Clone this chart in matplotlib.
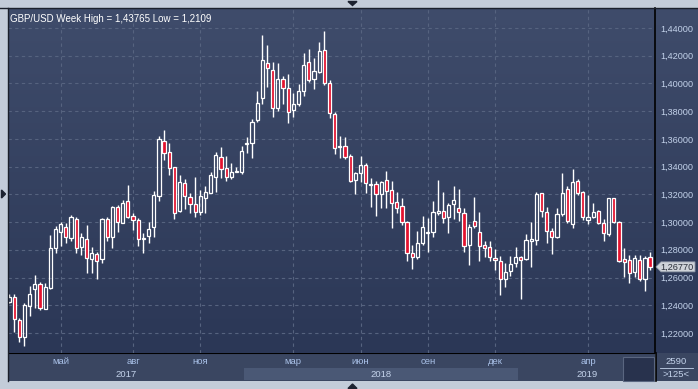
import numpy as np
import matplotlib.pyplot as plt
from matplotlib.patches import Rectangle, Polygon
from matplotlib.colors import LinearSegmentedColormap

plt.rcParams['font.family'] = ['Liberation Sans', 'DejaVu Sans']

# weekly GBP/USD candles
opens = [1.2422, 1.2458, 1.2294, 1.2169, 1.2395, 1.2515, 1.2551, 1.2371, 1.2527, 1.2811,
         1.2926, 1.2967, 1.2883, 1.3020, 1.2818, 1.2876, 1.2736, 1.2772, 1.2736, 1.3020,
         1.2890, 1.3106, 1.2995, 1.3152, 1.3046, 1.3015, 1.2880, 1.2902, 1.2962, 1.3190,
         1.3584, 1.3503, 1.3395, 1.3082, 1.3279, 1.3183, 1.3130, 1.3075, 1.3171, 1.3212,
         1.3327, 1.3471, 1.3387, 1.3323, 1.3364, 1.3363, 1.3565, 1.3568, 1.3736, 1.3892,
         1.4144, 1.4096, 1.3824, 1.4031, 1.3964, 1.3808, 1.3849, 1.3945, 1.4151, 1.4029,
         1.4084, 1.4240, 1.4000, 1.3777, 1.3541, 1.3548, 1.3476, 1.3303, 1.3351, 1.3411,
         1.3267, 1.3272, 1.3200, 1.3303, 1.3231, 1.3142, 1.3116, 1.2998, 1.2775, 1.2746,
         1.2847, 1.2923, 1.2926, 1.3063, 1.3080, 1.3034, 1.3128, 1.3099, 1.3063, 1.2835,
         1.3008, 1.2926, 1.2835, 1.2818, 1.2739, 1.2719, 1.2587, 1.2647, 1.2703, 1.2746,
         1.2734, 1.2866, 1.2871, 1.3207, 1.3075, 1.2935, 1.2894, 1.3058, 1.3236, 1.2984,
         1.3296, 1.3214, 1.3015, 1.3034, 1.3080, 1.2991, 1.2914, 1.3171, 1.3003, 1.2732,
         1.2727, 1.2638, 1.2727, 1.2587, 1.2746]
highs = [1.2481, 1.2481, 1.2311, 1.2414, 1.2539, 1.2618, 1.2570, 1.2561, 1.2907, 1.2972,
         1.3003, 1.2991, 1.3051, 1.3039, 1.2923, 1.2979, 1.2818, 1.2786, 1.3031, 1.3039,
         1.3116, 1.3123, 1.3159, 1.3267, 1.3063, 1.3027, 1.2919, 1.2998, 1.3226, 1.3620,
         1.3663, 1.3572, 1.3399, 1.3339, 1.3308, 1.3212, 1.3323, 1.3231, 1.3260, 1.3363,
         1.3507, 1.3539, 1.3476, 1.3423, 1.3399, 1.3548, 1.3611, 1.3741, 1.3945, 1.4348,
         1.4276, 1.4151, 1.4144, 1.4053, 1.4067, 1.3928, 1.3993, 1.4216, 1.4247, 1.4185,
         1.4300, 1.4377, 1.4024, 1.3795, 1.3620, 1.3615, 1.3490, 1.3363, 1.3476, 1.3423,
         1.3315, 1.3298, 1.3296, 1.3368, 1.3298, 1.3214, 1.3171, 1.3008, 1.2835, 1.2938,
         1.3044, 1.3027, 1.3152, 1.3303, 1.3214, 1.3135, 1.3260, 1.3238, 1.3099, 1.2984,
         1.3183, 1.3070, 1.2863, 1.2866, 1.2804, 1.2757, 1.2703, 1.2755, 1.2818, 1.2755,
         1.2914, 1.3003, 1.3219, 1.3212, 1.3106, 1.2955, 1.3103, 1.3351, 1.3260, 1.3380,
         1.3308, 1.3224, 1.3195, 1.3139, 1.3087, 1.3020, 1.3175, 1.3175, 1.3008, 1.2811,
         1.2763, 1.2763, 1.2763, 1.2757, 1.2782]
lows = [1.2415, 1.2210, 1.2138, 1.2109, 1.2325, 1.2378, 1.2366, 1.2370, 1.2515, 1.2775,
        1.2830, 1.2847, 1.2866, 1.2775, 1.2763, 1.2635, 1.2635, 1.2587, 1.2707, 1.2866,
        1.2811, 1.2930, 1.2991, 1.3027, 1.2943, 1.2827, 1.2775, 1.2851, 1.2890, 1.3154,
        1.3447, 1.3339, 1.3022, 1.3075, 1.3092, 1.3067, 1.3039, 1.3051, 1.3063, 1.3212,
        1.3219, 1.3320, 1.3298, 1.3308, 1.3359, 1.3346, 1.3496, 1.3460, 1.3723, 1.3851,
        1.3976, 1.3759, 1.3800, 1.3851, 1.3712, 1.3759, 1.3839, 1.3911, 1.4007, 1.3959,
        1.4076, 1.3988, 1.3748, 1.3488, 1.3460, 1.3452, 1.3291, 1.3200, 1.3291, 1.3212,
        1.3106, 1.3046, 1.3099, 1.3099, 1.2955, 1.3067, 1.2979, 1.2721, 1.2659, 1.2732,
        1.2835, 1.2786, 1.2894, 1.3051, 1.2991, 1.2923, 1.3020, 1.3008, 1.2786, 1.2690,
        1.2955, 1.2721, 1.2750, 1.2721, 1.2654, 1.2474, 1.2534, 1.2611, 1.2678, 1.2445,
        1.2727, 1.2674, 1.2835, 1.3039, 1.2851, 1.2770, 1.2887, 1.3046, 1.2991, 1.2959,
        1.3195, 1.3015, 1.2986, 1.3030, 1.2986, 1.2866, 1.2899, 1.2991, 1.2714, 1.2602,
        1.2559, 1.2602, 1.2577, 1.2505, 1.2654]
closes = [1.2462, 1.2299, 1.2169, 1.2402, 1.2479, 1.2551, 1.2378, 1.2530, 1.2811, 1.2948,
          1.2986, 1.2890, 1.3034, 1.2811, 1.2894, 1.2739, 1.2779, 1.2719, 1.3022, 1.2890,
          1.3106, 1.2998, 1.3135, 1.3039, 1.3015, 1.2876, 1.2885, 1.2950, 1.3195, 1.3596,
          1.3496, 1.3392, 1.3063, 1.3286, 1.3190, 1.3128, 1.3075, 1.3188, 1.3217, 1.3339,
          1.3483, 1.3382, 1.3323, 1.3359, 1.3370, 1.3512, 1.3570, 1.3723, 1.3856, 1.4168,
          1.4112, 1.3820, 1.4031, 1.3964, 1.3795, 1.3851, 1.3945, 1.4132, 1.4024, 1.4089,
          1.4233, 1.4000, 1.3784, 1.3532, 1.3545, 1.3471, 1.3298, 1.3356, 1.3411, 1.3279,
          1.3272, 1.3202, 1.3286, 1.3226, 1.3135, 1.3099, 1.3003, 1.2775, 1.2746, 1.2847,
          1.2962, 1.2926, 1.3070, 1.3080, 1.3027, 1.3123, 1.3159, 1.3070, 1.2830, 1.2962,
          1.2974, 1.2830, 1.2811, 1.2750, 1.2727, 1.2587, 1.2638, 1.2695, 1.2746, 1.2727,
          1.2871, 1.2878, 1.3202, 1.3082, 1.2938, 1.2890, 1.3056, 1.3207, 1.3010, 1.3286,
          1.3207, 1.3034, 1.3039, 1.3070, 1.2991, 1.2919, 1.3171, 1.2998, 1.2721, 1.2714,
          1.2631, 1.2739, 1.2587, 1.2743, 1.2677]

month_idx = [10, 24, 37, 55, 68, 81, 94, 112]
month_lbl = ['май', 'авг', 'ноя', 'мар', 'июн', 'сен', 'дек', 'апр']
year_lbl = ['2017', '2018', '2019']
year_first = [0, 46, 99]   # first candle of each year
price_ticks = [1.22, 1.24, 1.26, 1.28, 1.30, 1.32, 1.34, 1.36, 1.38, 1.40, 1.42, 1.44]
last_price = 1.26770

W, H = 698, 389
FRAME = '#c3ccd9'
RED = '#e3122e'
GRID = '#56637f'
TXT = '#c3d2ea'

fig = plt.figure(figsize=(W / 100, H / 100), dpi=100, facecolor=FRAME)


def px_axes(x0, y0, x1, y1, **kw):
    return fig.add_axes([x0 / W, 1 - y1 / H, (x1 - x0) / W, (y1 - y0) / H], **kw)


# dark gradient behind chart and price scale
bg = px_axes(8, 8, 698, 353)
cmap = LinearSegmentedColormap.from_list('bg', ['#3f4c6b', '#2b3756'])
bg.imshow(np.linspace(0, 1, 256)[:, None], aspect='auto', cmap=cmap, extent=[0, 1, 0, 1])
bg.set_axis_off()

ax = px_axes(8, 8, 655, 353)
ax.set_facecolor('none')
n = len(opens)
x = np.arange(n)
ax.set_xlim(-0.19, 124.95)
ax.set_ylim(1.2056, 1.4543)

for xi in month_idx:
    ax.axvline(xi, color=GRID, lw=0.8, ls=(0, (3, 3)), zorder=1)
for p in price_ticks:
    ax.axhline(p, color=GRID, lw=0.8, ls=(0, (3, 3)), zorder=1)

w = 0.62
for i in range(n):
    o, h, l, c = opens[i], highs[i], lows[i], closes[i]
    top, bot = max(o, c), min(o, c)
    if top - bot < 0.0004:
        mid = (top + bot) / 2
        top, bot = mid + 0.0002, mid - 0.0002
    ax.plot([i, i], [top, h], color='white', lw=1.0, zorder=2, solid_capstyle='butt')
    ax.plot([i, i], [l, bot], color='white', lw=1.0, zorder=2, solid_capstyle='butt')
    fc = RED if c < o else 'none'
    ax.add_patch(Rectangle((i - w / 2, bot), w, top - bot, facecolor=fc,
                           edgecolor='white', lw=0.9, zorder=3))

ax.yaxis.tick_right()
ax.set_yticks(price_ticks)
ax.set_yticklabels([f'{p:.5f}'.replace('.', ',') for p in price_ticks])
ax.tick_params(axis='y', length=0, pad=4, labelsize=6.6, labelcolor=TXT)
ax.set_xticks([])
for s in ['top', 'left', 'bottom']:
    ax.spines[s].set_visible(False)
ax.spines['right'].set_color('black')
ax.spines['right'].set_linewidth(1.2)

ax.text(0.003, 0.982, 'GBP/USD Week High = 1,43765 Low = 1,2109', transform=ax.transAxes,
        ha='left', va='top', fontsize=7, color='white')

# bottom time scale
tx = px_axes(8, 353, 655, 381, sharex=None)
tx.set_xlim(ax.get_xlim())
tx.set_ylim(0, 1)
tx.set_facecolor('#3a4661')
tx.set_xticks([])
tx.set_yticks([])
for s in tx.spines.values():
    s.set_visible(False)
tx.axhline(1, color='black', lw=1.5)
lo, hi = ax.get_xlim()
bounds = [max(lo, v - 0.5) for v in year_first] + [hi]
for k, lbl in enumerate(year_lbl):
    a, b = bounds[k], bounds[k + 1]
    if lbl == '2018':
        tx.add_patch(Rectangle((a, 0.03), b - a, 0.42, facecolor='#4a5875', edgecolor='none'))
    tx.text((a + b) / 2, 0.22, lbl, ha='center', va='center', fontsize=6.8, color=TXT)
for xi, lbl in zip(month_idx, month_lbl):
    tx.text(xi, 0.68, lbl, ha='center', va='center', fontsize=6.8, color='#a9c1e8')

# overlay in pixel coordinates for frame details
ov = px_axes(0, 0, W, H)
ov.set_xlim(0, W)
ov.set_ylim(H, 0)
ov.set_axis_off()
ov.patch.set_alpha(0)
ov.add_patch(Rectangle((623, 356.5), 31, 24, facecolor='#28324d', edgecolor='#5a6680', lw=0.8))
ov.add_patch(Rectangle((655.5, 353), 42.5, 28, facecolor='#3a4661', edgecolor='none'))
ov.plot([655.5, 655.5], [353, 381], color='black', lw=1.2)
ov.plot([0, W], [7.5, 7.5], color='#1a1f2b', lw=1.0)
ov.plot([7.5, 7.5], [7.5, 381], color='#1a1f2b', lw=1.0)
ov.plot([660, 693], [367.5, 367.5], color=TXT, lw=0.6)
ov.text(676, 361.5, '2590', ha='center', va='center', fontsize=6.8, color=TXT)
ov.text(676, 374.5, '>125<', ha='center', va='center', fontsize=6.8, color=TXT)
ov.add_patch(Polygon([[348, 1.5], [357, 1.5], [352.5, 5.5]], color='#1c2230'))
ov.add_patch(Polygon([[348, 388.5], [357, 388.5], [352.5, 384]], color='#1c2230'))
ov.add_patch(Polygon([[1.5, 190], [1.5, 198], [5.5, 194]], color='#1c2230'))

# last price tag
ytag = ax.transData.transform((0, last_price))[1]
ypx = H - ytag
ov.add_patch(Polygon([[656, ypx], [661, ypx - 5], [695, ypx - 5], [695, ypx + 5], [661, ypx + 5]],
                     facecolor='#cfd3d9', edgecolor='#8d96a6', lw=0.6))
ov.text(677, ypx, f'{last_price:.5f}'.replace('.', ','), ha='center', va='center',
        fontsize=6.6, color='#2a2f3a')

fig.savefig('out.png', dpi=100, facecolor=FRAME)
